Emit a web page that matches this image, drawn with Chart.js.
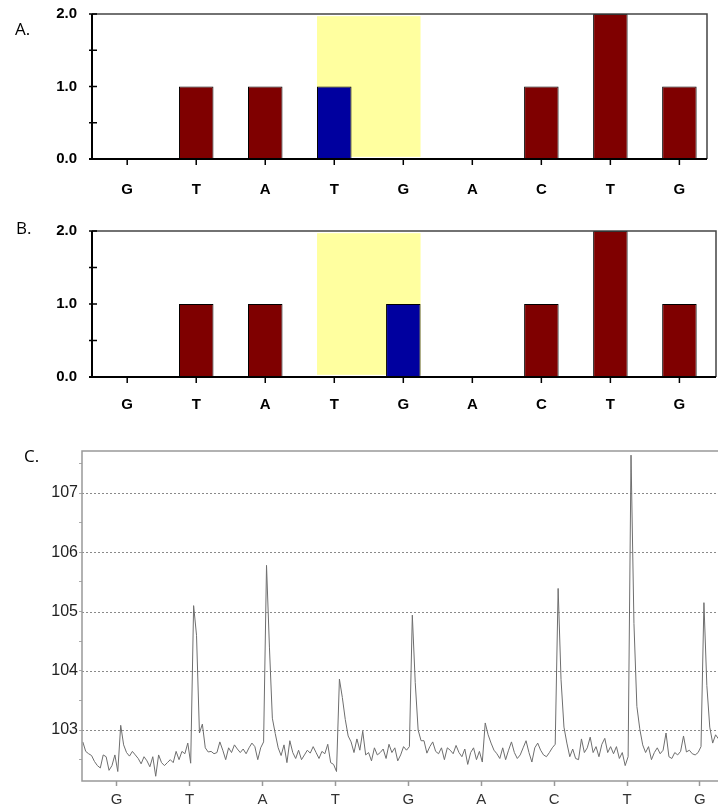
<!DOCTYPE html>
<html>
<head>
<meta charset="utf-8">
<script src="https://cdn.jsdelivr.net/npm/chart.js@4.4.1/dist/chart.umd.min.js"></script>
<style>
    body { margin: 0; background: #fff; width: 718px; height: 805px; overflow: hidden; position: relative; }
    .painel { position: absolute; left: 0; width: 718px; }
    .letra { position: absolute; font-family: 'Open Sans', sans-serif; font-size: 17px; line-height: 17px; color: #000; }
</style>
</head>
<body>
<div class="painel" style="top:0px;height:205px"><canvas id="graficoA"></canvas></div>
<div class="painel" style="top:215px;height:207px"><canvas id="graficoB"></canvas></div>
<div class="painel" style="top:430px;height:375px"><canvas id="graficoC"></canvas></div>
<div class="letra" style="left:15px;top:20px">A.</div>
<div class="letra" style="left:16px;top:219px">B.</div>
<div class="letra" style="left:24px;top:447px">C.</div>

<script>
/* DADOS */
const bases = ['G', 'T', 'A', 'T', 'G', 'A', 'C', 'T', 'G'];
const alturasA = [0, 1, 1, 1, 0, 0, 1, 2, 1];
const alturasB = [0, 1, 1, 0, 1, 0, 1, 2, 1];
const azulA = 3; // posicao da barra azul no painel A
const azulB = 4; // posicao da barra azul no painel B
const faixaPosicoes = [3, 4];      // barras cobertas pela faixa amarela
const faixaValores = [0.03, 1.97]; // altura da faixa amarela
const ticksBarras = [0, 0.5, 1, 1.5, 2];
const limitesA = [-0.51, 8.40]; // eixo x do painel A (em posicoes de base)
const limitesB = [-0.51, 8.53]; // o quadro do painel B e um pouco mais largo

const ticksSinal = [102.5, 103, 103.5, 104, 104.5, 105, 105.5, 106, 106.5, 107, 107.5];
const limitesSinal = [102.14, 107.71];
const limitesBase = [-0.476, 8.248];
const inicioSinal = -0.465; // primeira amostra, em unidades de base
const passoSinal = 0.04;    // intervalo entre amostras

// pirograma, 25 amostras por base
const sinal = [
    // G
    102.80, 102.64, 102.60, 102.57, 102.47, 102.40, 102.36, 102.58, 102.55, 102.32, 102.40, 102.58, 102.30,
    103.08, 102.75, 102.62, 102.56, 102.64, 102.58, 102.52, 102.43, 102.55, 102.48, 102.38, 102.55,
    // T
    102.22, 102.58, 102.45, 102.40, 102.45, 102.50, 102.45, 102.64, 102.50, 102.64, 102.60, 102.78, 102.44,
    105.10, 104.60, 102.95, 103.10, 102.70, 102.63, 102.64, 102.60, 102.62, 102.80, 102.66, 102.50,
    // A
    102.70, 102.62, 102.75, 102.68, 102.62, 102.68, 102.60, 102.70, 102.78, 102.72, 102.50, 102.70, 102.80,
    105.78, 104.40, 103.20, 102.94, 102.70, 102.57, 102.75, 102.45, 102.82, 102.62, 102.52, 102.66,
    // T
    102.50, 102.58, 102.66, 102.61, 102.72, 102.62, 102.52, 102.64, 102.60, 102.76, 102.45, 102.42, 102.30,
    103.86, 103.55, 103.18, 102.90, 102.80, 102.62, 102.85, 102.66, 102.98, 102.58, 102.62, 102.48,
    // G
    102.70, 102.58, 102.62, 102.68, 102.52, 102.76, 102.62, 102.70, 102.48, 102.58, 102.72, 102.66, 102.72,
    104.94, 103.80, 103.00, 102.82, 102.82, 102.61, 102.72, 102.80, 102.64, 102.60, 102.70, 102.50,
    // A
    102.70, 102.66, 102.60, 102.74, 102.62, 102.55, 102.68, 102.42, 102.62, 102.70, 102.50, 102.64, 102.46,
    103.12, 102.92, 102.78, 102.66, 102.60, 102.52, 102.70, 102.50, 102.66, 102.80, 102.62, 102.52,
    // C
    102.58, 102.70, 102.82, 102.62, 102.46, 102.70, 102.78, 102.66, 102.58, 102.55, 102.62, 102.70, 102.76,
    105.39, 103.85, 103.05, 102.78, 102.55, 102.68, 102.52, 102.50, 102.85, 102.62, 102.70, 102.88,
    // T
    102.62, 102.72, 102.55, 102.76, 102.86, 102.62, 102.72, 102.60, 102.72, 102.52, 102.62, 102.40, 102.55,
    107.64, 104.80, 103.40, 103.02, 102.75, 102.62, 102.72, 102.50, 102.62, 102.70, 102.60, 102.66,
    // G
    102.95, 102.55, 102.52, 102.62, 102.58, 102.64, 102.90, 102.63, 102.66, 102.60, 102.58, 102.62, 102.72,
    105.15, 103.75, 103.05, 102.78, 102.92, 102.85
];

Chart.defaults.font.family = "'Liberation Sans', Arial, sans-serif";

/* GRAFICOS DE BARRAS (A e B) */

// faixa amarela atras das barras + moldura e marcas dos eixos
const molduraBarras = {
    id: 'molduraBarras',
    beforeDatasetsDraw(chart) {
        const ctx = chart.ctx;
        const meta = chart.getDatasetMeta(0);
        const y = chart.scales.y;
        const b1 = meta.data[faixaPosicoes[0]];
        const b2 = meta.data[faixaPosicoes[1]];
        const x1 = b1.x - b1.width / 2;
        const x2 = b2.x + b2.width / 2;
        const yTopo = y.getPixelForValue(faixaValores[1]);
        const yBase = y.getPixelForValue(faixaValores[0]);
        ctx.save();
        ctx.fillStyle = '#ffff9f';
        ctx.fillRect(x1, yTopo, x2 - x1, yBase - yTopo);
        ctx.restore();
    },
    afterDraw(chart) {
        const ctx = chart.ctx;
        const a = chart.chartArea;
        const x = chart.scales.x;
        const y = chart.scales.y;
        ctx.save();
        ctx.strokeStyle = '#444';
        ctx.lineWidth = 1.5;
        ctx.beginPath();
        ctx.moveTo(a.left, a.top);
        ctx.lineTo(a.right, a.top);
        ctx.lineTo(a.right, a.bottom);
        ctx.stroke();

        ctx.strokeStyle = '#000';
        ctx.lineWidth = 2;
        ctx.beginPath();
        ctx.moveTo(a.left, a.top);
        ctx.lineTo(a.left, a.bottom);
        ctx.moveTo(a.left - 3, a.bottom);
        ctx.lineTo(a.right, a.bottom);
        ctx.stroke();

        ctx.lineWidth = 1.5;
        ctx.beginPath();
        ticksBarras.forEach(function (v) {
            const py = y.getPixelForValue(v);
            ctx.moveTo(a.left - 3, py);
            ctx.lineTo(a.left + 5, py);
        });
        bases.forEach(function (b, i) {
            const px = x.getPixelForValue(i);
            ctx.moveTo(px, a.bottom);
            ctx.lineTo(px, a.bottom + 6);
        });
        ctx.stroke();
        ctx.restore();
    }
};

function plotarBarras(idCanvas, alturas, azul, limites, topo, direita, alturaEixoX, paddingX) {
    let cores = [];
    let pontos = [];
    for (let i = 0; i < alturas.length; i++) {
        cores.push(i == azul ? '#00009f' : '#7f0000');
        pontos.push({ x: i, y: alturas[i] });
    }

    const config = {
        type: 'bar',
        data: {
            datasets: [{
                data: pontos,
                backgroundColor: cores,
                borderColor: '#000',
                borderWidth: 1,
                borderSkipped: 'bottom',
                barPercentage: 0.5,
                categoryPercentage: 1
            }]
        },
        options: {
            responsive: true,
            maintainAspectRatio: false,
            animation: false,
            layout: { padding: { top: topo, right: direita, left: 0, bottom: 0 } },
            plugins: {
                legend: { display: false },
                tooltip: { enabled: false }
            },
            scales: {
                x: {
                    type: 'linear',
                    min: limites[0],
                    max: limites[1],
                    offset: false,
                    grid: { display: false, drawTicks: false, offset: false },
                    border: { display: false },
                    afterBuildTicks: function (s) {
                        s.ticks = bases.map(function (b, i) { return { value: i }; });
                    },
                    ticks: {
                        color: '#000',
                        padding: paddingX,
                        autoSkip: false,
                        maxRotation: 0,
                        font: { size: 15, weight: 'bold' },
                        callback: function (v) { return bases[v] !== undefined ? bases[v] : ''; }
                    },
                    afterFit: function (s) { s.height = alturaEixoX; }
                },
                y: {
                    min: 0,
                    max: 2,
                    // marca invisivel so para afastar o texto do eixo
                    grid: { display: true, drawOnChartArea: false, drawTicks: true, tickLength: 10, tickColor: 'rgba(0,0,0,0)' },
                    border: { display: false },
                    afterBuildTicks: function (s) {
                        s.ticks = ticksBarras.map(function (v) { return { value: v }; });
                    },
                    ticks: {
                        color: '#000',
                        padding: 5,
                        font: { size: 15, weight: 'bold' },
                        callback: function (v) { return Number.isInteger(v) ? v.toFixed(1) : ''; }
                    },
                    afterFit: function (s) { s.width = 92; }
                }
            }
        },
        plugins: [molduraBarras]
    };

    new Chart(document.getElementById(idCanvas).getContext('2d'), config);
}

/* PIROGRAMA (C) */

const molduraSinal = {
    id: 'molduraSinal',
    beforeDatasetsDraw(chart) {
        const ctx = chart.ctx;
        const a = chart.chartArea;
        const y = chart.scales.y;
        ctx.save();
        ctx.strokeStyle = '#8a8a8a';
        ctx.lineWidth = 1;
        ctx.setLineDash([2, 2]);
        ctx.beginPath();
        ticksSinal.forEach(function (v) {
            if (!Number.isInteger(v)) return;
            const py = Math.round(y.getPixelForValue(v)) + 0.5;
            ctx.moveTo(a.left, py);
            ctx.lineTo(a.right, py);
        });
        ctx.stroke();
        ctx.restore();
    },
    afterDraw(chart) {
        const ctx = chart.ctx;
        const a = chart.chartArea;
        ctx.save();
        ctx.strokeStyle = '#999';
        ctx.lineWidth = 1.5;
        ctx.beginPath();
        ctx.moveTo(a.right, a.top);
        ctx.lineTo(a.left, a.top);
        ctx.lineTo(a.left, a.bottom);
        ctx.lineTo(a.right, a.bottom);
        ctx.stroke();
        ctx.restore();
    }
};

function plotarSinal() {
    let pontos = [];
    for (let i = 0; i < sinal.length; i++) {
        pontos.push({ x: inicioSinal + i * passoSinal, y: sinal[i] });
    }

    const config = {
        type: 'line',
        data: {
            datasets: [{
                data: pontos,
                borderColor: '#6e6e6e',
                borderWidth: 1,
                pointRadius: 0,
                tension: 0,
                fill: false
            }]
        },
        options: {
            responsive: true,
            maintainAspectRatio: false,
            animation: false,
            layout: { padding: { top: 21, right: 0, left: 0, bottom: 0 } },
            plugins: {
                legend: { display: false },
                tooltip: { enabled: false }
            },
            scales: {
                x: {
                    type: 'linear',
                    min: limitesBase[0],
                    max: limitesBase[1],
                    grid: { drawOnChartArea: false, tickLength: 5, tickColor: '#999', tickWidth: 1.5 },
                    border: { display: false },
                    afterBuildTicks: function (s) {
                        s.ticks = bases.map(function (b, i) { return { value: i }; });
                    },
                    ticks: {
                        color: '#333',
                        padding: 5,
                        autoSkip: false,
                        maxRotation: 0,
                        font: { size: 15 },
                        callback: function (v) { return bases[v] !== undefined ? bases[v] : ''; }
                    },
                    afterFit: function (s) { s.height = 24; }
                },
                y: {
                    min: limitesSinal[0],
                    max: limitesSinal[1],
                    grid: { drawOnChartArea: false, tickLength: 3, tickColor: '#aaa' },
                    border: { display: false },
                    afterBuildTicks: function (s) {
                        s.ticks = ticksSinal.map(function (v) { return { value: v }; });
                    },
                    ticks: {
                        color: '#222',
                        padding: 1,
                        font: { size: 16 },
                        callback: function (v) { return Number.isInteger(v) ? String(v) : ''; }
                    },
                    afterFit: function (s) { s.width = 82; }
                }
            }
        },
        plugins: [molduraSinal]
    };

    new Chart(document.getElementById('graficoC').getContext('2d'), config);
}

plotarBarras('graficoA', alturasA, azulA, limitesA, 14, 11, 46, 22);
plotarBarras('graficoB', alturasB, azulB, limitesB, 16, 2, 45, 19);
plotarSinal();
</script>
</body>
</html>
